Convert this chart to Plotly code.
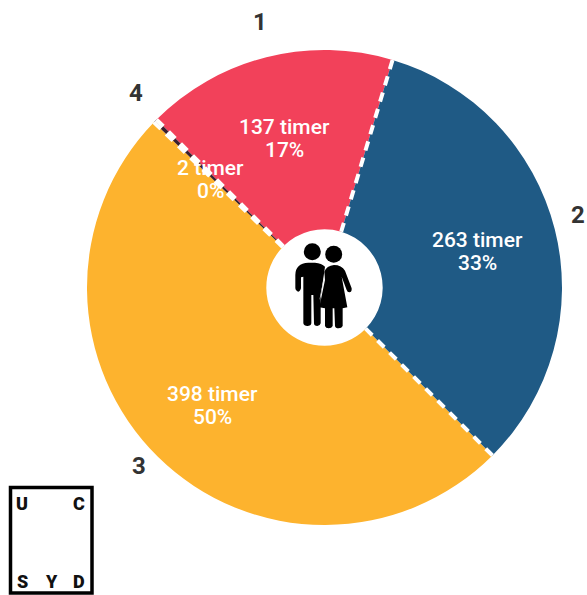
import math, re
import plotly.graph_objects as go

categories = ["1", "2", "3", "4"]
values = [137, 263, 398, 2]
value_labels = ["137 timer", "263 timer", "398 timer", "2 timer"]
percent_labels = ["17%", "33%", "50%", "0%"]
colors = ["#F2415A", "#1F5A85", "#FDB32E", "#3A1F2E"]

W, H = 587, 595
CX, CY, R = 324.5, 287.5, 237.5
HOLE = 0.245
ROTATION = -45
inner_radius = [154, 157, 163, 157]
inner_shift = [-1, 1, -1, -1]
outer_radius = [273, 264, 257.5, 271]
outer_shift = [0.5, -1.8, 1.5, 1.4]

def px(x): return x / W
def py(y): return 1 - y / H
def polar(angle, r):
    a = math.radians(angle)
    return CX + r * math.sin(a), CY - r * math.cos(a)

total = sum(values)
edges = [ROTATION]
for v in values:
    edges.append(edges[-1] + v / total * 360)
mids = [(edges[i] + edges[i + 1]) / 2 for i in range(len(values))]

fig = go.Figure(go.Pie(
    labels=categories, values=values, sort=False, direction="clockwise",
    rotation=ROTATION, hole=HOLE, textinfo="none", showlegend=False,
    marker=dict(colors=colors, line=dict(width=0)),
    domain=dict(x=[px(CX - R), px(CX + R)], y=[py(CY + R), py(CY - R)]),
))

shapes = []
# dashed separators, derived from the slice boundaries
for ang in edges[:-1]:
    x0, y0 = polar(ang, R * HOLE)
    x1, y1 = polar(ang, R)
    shapes.append(dict(type="line", xref="paper", yref="paper",
                       x0=px(x1), y0=py(y1), x1=px(x0), y1=py(y0),
                       line=dict(color="white", width=4, dash="9.5px,7.5px")))

# icon (zoom-crop coordinates → page pixels)
def icon_path(p):
    def sub(m):
        x = 230 + float(m.group(1)) / 3
        y = 200 + float(m.group(2)) / 3
        return f"{px(x):.5f},{py(y):.5f}"
    return re.sub(r"([\d.]+),([\d.]+)", sub, p)

man = "M196,225 Q196,190 235,188 L255,188 Q275,190 285,200 L272,290 L272,370 Q270,378 262,378 Q252,378 252,370 L250,285 L244,285 L244,370 Q243,378 232,378 Q222,378 220,370 L220,230 L213,232 L213,265 Q210,275 204,275 Q196,273 196,265 Z"
woman = "M283,215 Q290,197 312,195 Q335,195 345,212 L365,265 Q366,277 358,277 Q352,277 350,270 L335,230 L352,322 L338,325 L338,378 Q335,385 326,385 Q316,385 315,378 L313,325 L308,325 L308,378 Q305,385 296,385 Q287,385 285,378 L285,325 L268,322 L285,240 Z"
gap = "M285,220 L272,290 L268,300 L280,240 Z"
for p, c in ((man, "black"), (woman, "black"), (gap, "#dddddd")):
    shapes.append(dict(type="path", xref="paper", yref="paper", path=icon_path(p),
                       fillcolor=c, line=dict(width=0)))
for hx, hy in ((312.3, 251.7), (333.7, 254.3)):
    shapes.append(dict(type="circle", xref="paper", yref="paper",
                       x0=px(hx - 8.5), x1=px(hx + 8.5), y0=py(hy + 8.5), y1=py(hy - 8.5),
                       fillcolor="black", line=dict(width=0)))
# logo frame
shapes.append(dict(type="rect", xref="paper", yref="paper",
                   x0=px(10.5), x1=px(92), y0=py(593), y1=py(487.5),
                   line=dict(color="black", width=3.5), fillcolor="rgba(0,0,0,0)"))

ann = []
def note(x, y, text, **font):
    ann.append(dict(x=px(x), y=py(y), xref="paper", yref="paper", showarrow=False,
                    xanchor="center", yanchor="middle", text=text,
                    font=dict(family="Roboto", **font)))

for i in range(len(values)):
    x, y = polar(mids[i] + inner_shift[i], inner_radius[i])
    note(x, y - 11.5, value_labels[i], size=21, color="white", weight=500)
    note(x, y + 11.5, percent_labels[i], size=21, color="white", weight=500)
    x, y = polar(mids[i] + outer_shift[i], outer_radius[i])
    note(x, y, categories[i], size=24, color="#333333", weight=700)

logo_letters = ["U", "C", "S", "Y", "D"]
logo_x = [22, 79, 22, 51, 79]
logo_y = [503, 503, 581, 581, 581]
for t, lx, ly in zip(logo_letters, logo_x, logo_y):
    note(lx, ly, t, size=18, color="#111111", weight=900)

fig.update_layout(width=W, height=H, margin=dict(l=0, r=0, t=0, b=0),
                  paper_bgcolor="white", plot_bgcolor="white",
                  shapes=shapes, annotations=ann)
fig.write_html("out.html", config=dict(displayModeBar=False),
               post_script="document.body.style.margin='0';")
